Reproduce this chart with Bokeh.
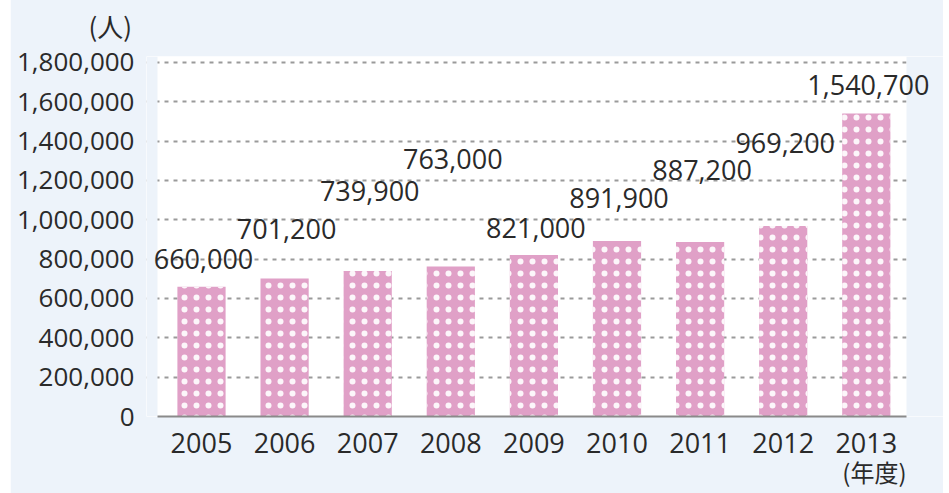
from bokeh.plotting import figure
from bokeh.models import ColumnDataSource, FixedTicker, NumeralTickFormatter, Range1d, Title
from bokeh.core.properties import value
from bokeh.embed import file_html
from bokeh.resources import INLINE

# --- data ---
years = ["2005", "2006", "2007", "2008", "2009", "2010", "2011", "2012", "2013"]
visitors = [660000, 701200, 739900, 763000, 821000, 891900, 887200, 969200, 1540700]
value_labels = ["660,000", "701,200", "739,900", "763,000", "821,000",
                "891,900", "887,200", "969,200", "1,540,700"]
y_ticks = [0, 200000, 400000, 600000, 800000, 1000000, 1200000, 1400000, 1600000, 1800000]

# label placement (pixels above bar top) - layout only
label_lift = [-28, -50, -80, -107, -27, -43, -72, -83, -28]

FONT = "Open Sans"
TEXT = "#2a2a2a"
PINK = "#e0a0c7"
BG = "#edf3fa"

# --- layout (page pixels) ---
FRAME_L, FRAME_R = 146, 943
FIRST_C, CAT_W = 201, 83.1
WHITE_L, WHITE_R = 157, 906
def to_x(px):
    return (px - FIRST_C) / CAT_W
x_start, x_end = to_x(FRAME_L), to_x(FRAME_R)
Y_END = 1830500

idx = list(range(len(years)))
src = ColumnDataSource(dict(i=idx, v=visitors, lab=value_labels, lift=label_lift))

p = figure(x_range=Range1d(x_start, x_end),
           y_range=Range1d(0, Y_END),
           width=933, height=502,
           output_backend="svg", toolbar_location=None,
           min_border_left=FRAME_L - 10, min_border_right=0,
           min_border_top=65, min_border_bottom=77)
p.margin = (-9, 6, 0, 10)
p.background_fill_color = "white"
p.border_fill_color = BG
p.outline_line_color = None

# light-blue strips outside the white plotting panel (cover grid ends)
p.quad(left=[x_start, to_x(WHITE_R)], right=[to_x(WHITE_L), x_end],
       bottom=0, top=Y_END, fill_color=BG, line_color=None)

p.vbar(x="i", top="v", width=0.58, source=src,
       fill_color=PINK, line_color=None,
       hatch_pattern="dot", hatch_color="white", hatch_alpha=0.9,
       hatch_scale=12, hatch_weight=0.5)

p.text(x="i", y="v", text="lab", source=src,
       x_offset=2, y_offset="lift",
       text_align="center", text_baseline="middle",
       text_font=value(FONT), text_font_size="27px", text_color=TEXT)

# axes
p.yaxis.ticker = FixedTicker(ticks=y_ticks)
p.yaxis.formatter = NumeralTickFormatter(format="0,0")
p.yaxis.axis_line_color = None
p.yaxis.major_tick_line_color = None
p.yaxis.minor_tick_line_color = None
p.yaxis.major_label_standoff = 6
p.yaxis.major_label_text_font = FONT
p.yaxis.major_label_text_font_size = "26px"
p.yaxis.major_label_text_color = TEXT

p.xaxis.ticker = FixedTicker(ticks=idx)
p.xaxis.major_label_overrides = {i: y for i, y in zip(idx, years)}
p.xaxis.bounds = (to_x(WHITE_L), to_x(WHITE_R))
p.xaxis.axis_line_color = "#8a8a8a"
p.xaxis.axis_line_width = 2
p.xaxis.major_tick_line_color = None
p.xaxis.minor_tick_line_color = None
p.xaxis.major_label_standoff = 10
p.xaxis.major_label_text_font = FONT
p.xaxis.major_label_text_font_size = "27px"
p.xaxis.major_label_text_color = TEXT

p.xgrid.grid_line_color = None
p.ygrid.grid_line_color = "#9a9a9a"
p.ygrid.grid_line_width = 2
p.ygrid.grid_line_dash = "4 5"

# unit labels
p.title.text = "(人)"
p.title.align = "left"
p.title.offset = -58
p.title.standoff = 26
p.title.text_font = "Noto Sans CJK JP"
p.title.text_font_style = "normal"
p.title.text_font_size = "26px"
p.title.text_color = TEXT

p.add_layout(Title(text="(年度)", align="right", offset=37, standoff=-7,
                   text_font="Noto Sans CJK JP", text_font_style="normal",
                   text_font_size="24px", text_color=TEXT), "below")

open("out.html", "w").write(file_html(p, INLINE))
